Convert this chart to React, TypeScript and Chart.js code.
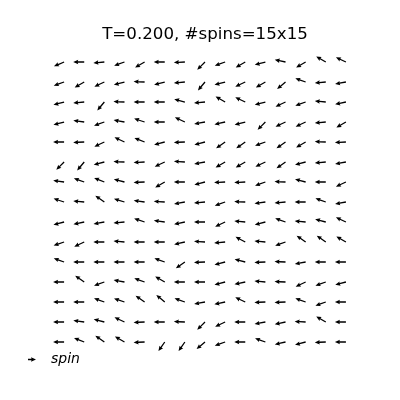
import React, { useEffect, useRef } from "react";
import { Chart, registerables } from "chart.js";

Chart.register(...registerables);

const TITLE = "T=0.200, #spins=15x15";
const KEY_LABEL = "spin";
const COLS = [0, 1, 2, 3, 4, 5, 6, 7, 8, 9, 10, 11, 12, 13, 14];
const ROWS = [14, 13, 12, 11, 10, 9, 8, 7, 6, 5, 4, 3, 2, 1, 0];

// spin angles in degrees (counter-clockwise from +x), rows listed from top to bottom
const row01 = [203, 180, 185, 200, 210, 180, 183, 225, 200, 210, 195, 168, 210, 150, 155];
const row02 = [200, 210, 205, 195, 178, 195, 185, 230, 195, 205, 210, 220, 160, 185, 190];
const row03 = [195, 185, 230, 178, 180, 180, 165, 185, 150, 155, 195, 205, 200, 175, 192];
const row04 = [195, 172, 200, 170, 162, 180, 155, 190, 193, 195, 225, 205, 205, 185, 210];
const row05 = [180, 182, 205, 155, 158, 195, 182, 195, 215, 215, 200, 215, 210, 178, 183];
const row06 = [225, 230, 195, 178, 183, 205, 176, 190, 210, 210, 205, 215, 195, 185, 190];
const row07 = [172, 160, 158, 165, 182, 210, 180, 195, 183, 183, 200, 178, 165, 180, 205];
const row08 = [162, 175, 145, 163, 172, 176, 190, 185, 200, 178, 188, 185, 180, 160, 190];
const row09 = [195, 192, 190, 185, 162, 172, 192, 180, 205, 175, 195, 160, 175, 165, 155];
const row10 = [198, 205, 180, 175, 180, 180, 193, 176, 185, 152, 175, 200, 145, 145, 150];
const row11 = [160, 180, 180, 180, 180, 160, 215, 182, 195, 165, 182, 178, 190, 180, 180];
const row12 = [180, 145, 200, 170, 160, 150, 180, 180, 195, 192, 175, 178, 205, 200, 195];
const row13 = [180, 180, 160, 162, 145, 140, 160, 190, 192, 155, 182, 182, 160, 200, 180];
const row14 = [180, 172, 165, 155, 182, 180, 178, 225, 205, 180, 190, 192, 177, 150, 180];
const row15 = [180, 158, 145, 150, 182, 235, 235, 220, 200, 180, 160, 193, 195, 182, 180];

const ANGLES = [row01, row02, row03, row04, row05, row06, row07, row08, row09, row10, row11, row12, row13, row14, row15];

const ARROW_LEN = 11;
const SHAFT_W = 1.3;
const HEAD_W = 4.4;
const HEAD_L = 5;
const HEAD_AX = 4.5;

function drawArrow(ctx: CanvasRenderingContext2D, x: number, y: number, deg: number, len: number) {
  const a = (-deg * Math.PI) / 180;
  ctx.save();
  ctx.translate(x, y);
  ctx.rotate(a);
  const hs = SHAFT_W / 2;
  const hh = HEAD_W / 2;
  ctx.beginPath();
  ctx.moveTo(0, -hs);
  ctx.lineTo(len - HEAD_AX, -hs);
  ctx.lineTo(len - HEAD_L, -hh);
  ctx.lineTo(len, 0);
  ctx.lineTo(len - HEAD_L, hh);
  ctx.lineTo(len - HEAD_AX, hs);
  ctx.lineTo(0, hs);
  ctx.closePath();
  ctx.fillStyle = "#000000";
  ctx.fill();
  ctx.restore();
}

const quiverPlugin = {
  id: "quiver",
  afterDatasetsDraw(chart: any) {
    const ctx = chart.ctx as CanvasRenderingContext2D;
    const meta = chart.getDatasetMeta(0);
    const data = chart.data.datasets[0].data as any[];
    meta.data.forEach((el: any, i: number) => {
      drawArrow(ctx, el.x, el.y, data[i].angle, ARROW_LEN);
    });
  },
  afterDraw(chart: any) {
    const ctx = chart.ctx as CanvasRenderingContext2D;
    drawArrow(ctx, 28, 359.5, 0, 8);
    ctx.save();
    ctx.font = "italic 14px 'DejaVu Sans'";
    ctx.fillStyle = "#000000";
    ctx.textBaseline = "alphabetic";
    ctx.textAlign = "left";
    ctx.fillText(KEY_LABEL, 51, 362.5);
    ctx.restore();
  },
};

export default function App() {
  const ref = useRef<HTMLCanvasElement | null>(null);
  useEffect(() => {
    if (!ref.current) return;
    const points: any[] = [];
    ROWS.forEach((yv, r) => {
      COLS.forEach((xv, c) => {
        points.push({ x: xv, y: yv, angle: ANGLES[r][c] });
      });
    });
    const chart = new Chart(ref.current, {
      type: "scatter",
      data: {
        datasets: [
          {
            label: KEY_LABEL,
            data: points,
            pointRadius: 0,
            pointHoverRadius: 0,
          },
        ],
      },
      options: {
        animation: false,
        responsive: false,
        events: [],
        layout: { padding: { left: 50, right: 40, top: 25, bottom: 44 } },
        plugins: {
          legend: { display: false },
          tooltip: { enabled: false },
          title: {
            display: true,
            text: TITLE,
            color: "#000000",
            font: { family: "'DejaVu Sans'", size: 16.67, weight: "normal", lineHeight: 1.2 },
            padding: { top: 0, bottom: 3 },
          },
        },
        scales: {
          x: { type: "linear", min: -0.7, max: 14.7, display: false },
          y: { type: "linear", min: -0.7, max: 14.7, display: false },
        },
      },
      plugins: [quiverPlugin],
    });
    return () => chart.destroy();
  }, []);
  return (
    <div style={{ position: "fixed", left: 0, top: 0, width: 400, height: 400, background: "#ffffff" }}>
      <canvas ref={ref} width={400} height={400} style={{ width: 400, height: 400 }} />
    </div>
  );
}
